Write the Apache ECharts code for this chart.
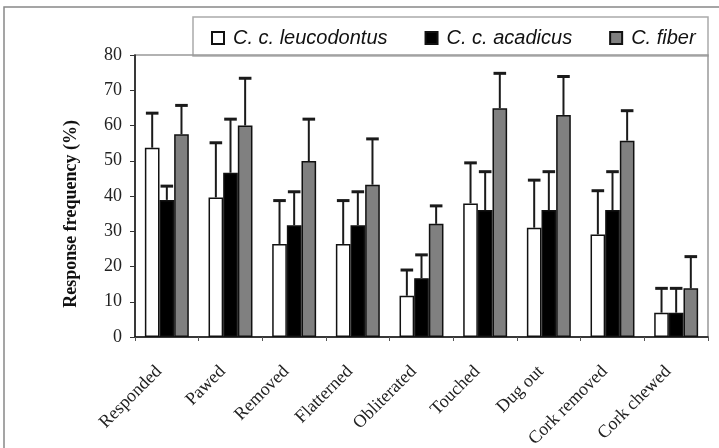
<!DOCTYPE html>
<html><head><meta charset="utf-8">
<script src="https://cdn.jsdelivr.net/npm/echarts@6/dist/echarts.min.js"></script>
<style>html,body{margin:0;padding:0;background:#fff}#c{width:719px;height:448px}</style>
</head><body><div id="c"></div>
<script>
const categories = ['Responded','Pawed','Removed','Flatterned','Obliterated','Touched','Dug out','Cork removed','Cork chewed'];
const seriesNames = ['C. c. leucodontus','C. c. acadicus','C. fiber'];
const leucodontus = [53.7, 39.6, 26.4, 26.4, 11.7, 37.9, 31.0, 29.1, 6.9];
const acadicus    = [38.9, 46.6, 31.7, 31.7, 16.7, 36.0, 36.0, 36.0, 6.9];
const fiber       = [57.5, 60.0, 49.9, 43.2, 32.1, 64.9, 63.0, 55.7, 13.8];
const leucodontusErr = [9.8, 15.5, 12.3, 12.3, 7.3, 11.5, 13.5, 12.4, 6.9];
const acadicusErr    = [3.9, 15.2, 9.5, 9.5, 6.6, 10.9, 10.9, 10.9, 6.9];
const fiberErr       = [8.2, 13.4, 11.9, 13.0, 5.1, 9.9, 10.9, 8.5, 9.0];
const yTicks = [0,10,20,30,40,50,60,70,80];

const values = [leucodontus, acadicus, fiber];
const errs = [leucodontusErr, acadicusErr, fiberErr];
const colors = ['#ffffff', '#000000', '#808080'];
const CAT_GAP = 0.31;

const chart = echarts.init(document.getElementById('c'));

function errSeries(idx) {
  return {
    type: 'custom',
    name: seriesNames[idx] + ' err',
    z: 5,
    silent: true,
    data: values[idx].map((v, i) => [i, v, v + errs[idx][i]]),
    renderItem: function (params, api) {
      const catW = api.size([1, 0])[0];
      const groupW = catW * (1 - CAT_GAP);
      const barW = groupW / 3;
      const off = -groupW / 2 + barW * (idx + 0.5);
      const base = api.coord([api.value(0), api.value(1)]);
      const top = api.coord([api.value(0), api.value(2)]);
      const x = base[0] + off;
      const capHalf = 6.3;
      return {
        type: 'group',
        children: [
          {type: 'line', shape: {x1: x, y1: base[1], x2: x, y2: top[1]}, style: {stroke: '#1a1a1a', lineWidth: 2}},
          {type: 'line', shape: {x1: x - capHalf, y1: top[1], x2: x + capHalf, y2: top[1]}, style: {stroke: '#1a1a1a', lineWidth: 3}}
        ]
      };
    }
  };
}

const option = {
  animation: false,
  backgroundColor: '#fff',
  grid: {left: 135, right: 11, top: 55, bottom: 111, containLabel: false, outerBoundsMode: 'none'},
  legend: {
    data: seriesNames,
    left: 211, top: 28,
    itemWidth: 12, itemHeight: 12, itemGap: 37,
    icon: 'rect',
    textStyle: {fontFamily: 'Liberation Sans, Arial, sans-serif', fontStyle: 'italic', fontSize: 20, color: '#111', padding: [0,0,0,4]},
    padding: 0
  },
  xAxis: {
    type: 'category',
    data: categories,
    axisLine: {lineStyle: {color: '#111', width: 1.5}},
    axisTick: {show: true, length: 4, lineStyle: {color: '#555'}},
    axisLabel: {rotate: 45, margin: 24, interval: 0, padding: [0, 11, 0, 0], fontFamily: 'Liberation Serif, Times New Roman, serif', fontSize: 18, color: '#222'}
  },
  yAxis: {
    type: 'value',
    min: 0, max: 80, interval: 10,
    axisLine: {show: true, lineStyle: {color: '#111', width: 1.5}},
    axisTick: {show: true, length: 5, lineStyle: {color: '#333'}},
    splitLine: {show: false},
    axisLabel: {margin: 13, fontFamily: 'Liberation Serif, Times New Roman, serif', fontSize: 18, color: '#222',
      formatter: v => yTicks.indexOf(v) >= 0 ? String(v) : ''}
  },
  graphic: [
    {type: 'rect', z: -10, shape: {x: 4, y: 7, width: 800, height: 600}, style: {fill: 'none', stroke: '#888', lineWidth: 1.5}},
    {type: 'rect', z: -5, shape: {x: 193, y: 17, width: 515, height: 39}, style: {fill: '#fff', stroke: '#aaa', lineWidth: 1.5}},
    {type: 'rect', z: -5, shape: {x: 135, y: 55, width: 573, height: 282}, style: {fill: 'none', stroke: '#999', lineWidth: 1.5}},
    {type: 'text', left: 62, top: 120, rotation: Math.PI / 2,
      style: {text: 'Response frequency (%)', font: 'bold 18px "Liberation Serif", "Times New Roman", serif', fill: '#111'}}
  ],
  series: [0, 1, 2].map(i => ({
    type: 'bar',
    name: seriesNames[i],
    data: values[i],
    barGap: '0%',
    barCategoryGap: (CAT_GAP * 100) + '%',
    itemStyle: {color: colors[i], borderColor: '#111', borderWidth: 1.5}
  })).concat([0, 1, 2].map(errSeries))
};
chart.setOption(option);
</script></body></html>
